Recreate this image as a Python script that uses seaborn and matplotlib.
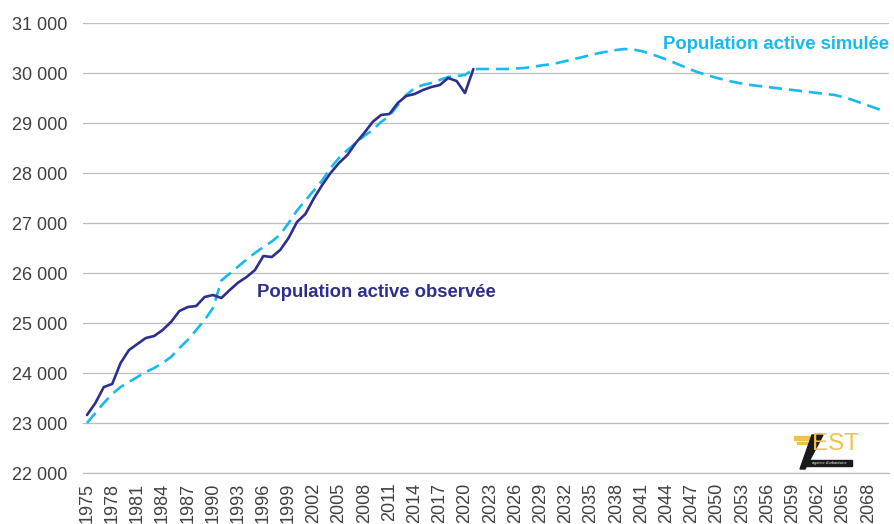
import numpy as np
import pandas as pd
import matplotlib
matplotlib.use("Agg")
import matplotlib.pyplot as plt
from matplotlib.ticker import FuncFormatter, MultipleLocator
from matplotlib.patches import Rectangle, Polygon
import seaborn as sns

# Active population (thousands of people)
years_observed = list(range(1975, 2022))
observed = [
    23160, 23400, 23720, 23780, 24200, 24460, 24580, 24700, 24740, 24860,
    25020, 25240, 25320, 25340, 25520, 25560, 25500, 25660, 25810, 25920,
    26060, 26340, 26320, 26460, 26700, 27020, 27180, 27490, 27760, 28000,
    28200, 28360, 28600, 28800, 29020, 29160, 29180, 29400, 29540, 29580,
    29660, 29720, 29760, 29900, 29840, 29600, 30080,
]

years_simulated = list(range(1975, 2071))
simulated = [
    23000, 23200, 23400, 23580, 23720, 23820, 23920, 24020, 24100, 24200,
    24320, 24500, 24660, 24860, 25060, 25300, 25850, 25990, 26130, 26270,
    26400, 26520, 26630, 26770, 27000, 27250, 27450, 27650, 27850, 28100,
    28300, 28460, 28600, 28740, 28860, 29020, 29140, 29360, 29560, 29700,
    29760, 29800, 29860, 29920, 29940, 29960, 30080, 30080, 30080, 30080,
    30080, 30090, 30100, 30120, 30150, 30170, 30200, 30240, 30280, 30320,
    30360, 30400, 30430, 30460, 30480, 30470, 30440, 30390, 30330, 30270,
    30200, 30130, 30060, 30000, 29950, 29900, 29860, 29820, 29790, 29760,
    29740, 29720, 29700, 29680, 29660, 29640, 29620, 29600, 29580, 29560,
    29520, 29470, 29410, 29350, 29290, 29230,
]

label_observed = "Population active observée"
label_simulated = "Population active simulée"

df_obs = pd.DataFrame({"annee": years_observed, "actifs": observed})
df_sim = pd.DataFrame({"annee": years_simulated, "actifs": simulated})

sns.set_theme(style="white")
plt.rcParams["font.family"] = ["Liberation Sans", "DejaVu Sans"]

color_obs = "#2e2f8c"
color_sim = "#18b9ee"
text_gray = "#404040"
grid_gray = "#bdbdbd"

fig = plt.figure(figsize=(8.95, 5.24), dpi=100)
ax = fig.add_axes([0.0925, 0.0973, 0.901, 0.8588])

sns.lineplot(data=df_sim, x="annee", y="actifs", ax=ax, color=color_sim,
             linewidth=1.9, linestyle=(0, (5, 2.6)))
sns.lineplot(data=df_obs, x="annee", y="actifs", ax=ax, color=color_obs,
             linewidth=1.9)

ax.set_xlim(1974.5, 2070.5)
ax.set_ylim(22000, 31000)
ax.yaxis.set_major_locator(MultipleLocator(1000))
ax.yaxis.set_major_formatter(
    FuncFormatter(lambda v, _: f"{int(v):,}".replace(",", " ")))
ax.set_xticks(list(range(1975, 2071, 3)))
ax.set_xticklabels([str(y) for y in range(1975, 2071, 3)], rotation=90)

ax.grid(axis="y", color=grid_gray, linewidth=0.9)
ax.grid(axis="x", visible=False)
ax.set_axisbelow(True)
for side in ["top", "right", "left"]:
    ax.spines[side].set_visible(False)
ax.spines["bottom"].set_color(grid_gray)
ax.spines["bottom"].set_linewidth(0.9)
ax.tick_params(axis="y", length=0, pad=11, labelsize=13, labelcolor=text_gray)
ax.tick_params(axis="x", length=0, pad=7, labelsize=13, labelcolor=text_gray)
ax.set_xlabel("")
ax.set_ylabel("")

ax.text(1995.2, 25620, label_observed, color=color_obs, fontsize=13.3,
        fontweight="bold", va="center", ha="left")
ax.text(2043.6, 30580, label_simulated, color=color_sim, fontsize=13.3,
        fontweight="bold", va="center", ha="left")

# Agency logo, bottom right
W, H = 895.0, 524.0
def fx(px):
    return px / W
def fy(py):
    return 1 - py / H

gold = "#f0c24a"
dark = "#1a1a1a"
fig.patches.append(Rectangle((fx(794), fy(439.5)), fx(20), fy(436) - fy(439.5),
                             transform=fig.transFigure, color=gold, zorder=5))
fig.patches.append(Rectangle((fx(797), fy(444)), fx(14), fy(441.5) - fy(444),
                             transform=fig.transFigure, color=gold, zorder=5))
fig.patches.append(Polygon([(fx(812), fy(435)), (fx(823), fy(435)),
                            (fx(805), fy(469)), (fx(800), fy(469))],
                           closed=True, transform=fig.transFigure,
                           color=dark, zorder=6))
fig.text(fx(812), fy(444.5), "EST", color=gold, fontsize=17.5, va="center",
         ha="left", zorder=6)
fig.patches.append(Rectangle((fx(806), fy(466)), fx(46), fy(459.5) - fy(466),
                             transform=fig.transFigure, color=dark, zorder=5))
fig.text(fx(829), fy(462.8), "agence d'urbanisme", color="white", fontsize=2.8,
         va="center", ha="center", style="italic", zorder=7)

fig.savefig("out.png", dpi=100)
